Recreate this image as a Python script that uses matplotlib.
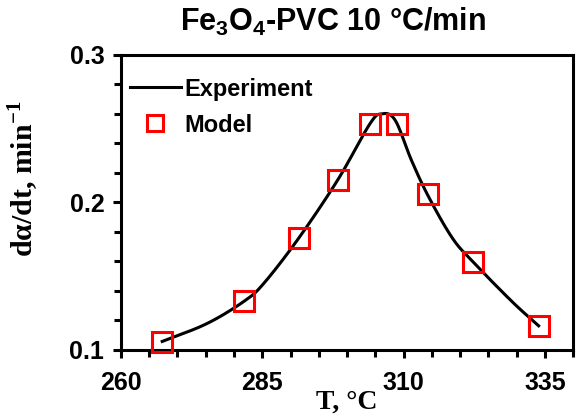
import numpy as np
import matplotlib
matplotlib.use('Agg')
import matplotlib.pyplot as plt
from matplotlib.ticker import MultipleLocator, FixedLocator

plt.rcParams['mathtext.fontset'] = 'custom'
plt.rcParams['mathtext.rm'] = 'Liberation Serif:bold'
plt.rcParams['mathtext.bf'] = 'Liberation Serif:bold'
plt.rcParams['mathtext.sf'] = 'Liberation Sans:bold'

# experimental rate curve, dalpha/dt vs T
exp_T = [267.3, 275.2, 281.8, 285.3, 291.5, 298.4, 304.0, 306.1, 308.5,
         311.4, 314.4, 318.6, 322.2, 329.2, 333.9]
exp_rate = [0.1057, 0.1178, 0.1330, 0.1452, 0.1760, 0.2155, 0.2530, 0.2600,
            0.2558, 0.2285, 0.2040, 0.1760, 0.1600, 0.1327, 0.1163]

# model points
mod_T = [267.3, 281.8, 291.5, 298.4, 304.0, 308.8, 314.4, 322.2, 333.9]
mod_rate = [0.1053, 0.1332, 0.1760, 0.2155, 0.2531, 0.2531, 0.2054, 0.1598, 0.1163]


def catmull_rom(x, y, n=20):
    # simple Catmull-Rom spline through the given points
    p = np.column_stack([x, y]).astype(float)
    p = np.vstack([2 * p[0] - p[1], p, 2 * p[-1] - p[-2]])
    out = []
    for i in range(1, len(p) - 2):
        p0, p1, p2, p3 = p[i - 1], p[i], p[i + 1], p[i + 2]
        t = np.linspace(0, 1, n, endpoint=False)[:, None]
        seg = 0.5 * ((2 * p1) + (-p0 + p2) * t + (2 * p0 - 5 * p1 + 4 * p2 - p3) * t ** 2
                     + (-p0 + 3 * p1 - 3 * p2 + p3) * t ** 3)
        out.append(seg)
    out.append(p[-2][None, :])
    out = np.vstack(out)
    return out[:, 0], out[:, 1]


fig = plt.figure(figsize=(5.76, 4.19), dpi=100)
ax = fig.add_axes([0.21, 0.165, 0.785, 0.704])

sx, sy = catmull_rom(exp_T, exp_rate)
ax.plot(sx, sy, color='black', lw=2.2, label='Experiment', zorder=2)
ax.plot(mod_T, mod_rate, 's', ms=14, mfc='none', mec='#ff0000', mew=2.2,
        label='Model', zorder=3, clip_on=False)

ax.set_xlim(260, 340)
ax.set_ylim(0.1, 0.3)
ax.xaxis.set_major_locator(FixedLocator([260, 285, 310, 335]))
ax.xaxis.set_minor_locator(MultipleLocator(5))
ax.yaxis.set_major_locator(MultipleLocator(0.1))
ax.yaxis.set_minor_locator(MultipleLocator(0.02))
ax.yaxis.set_major_formatter(plt.FuncFormatter(lambda v, p: '%.1f' % v))

for s in ax.spines.values():
    s.set_linewidth(2.2)
ax.tick_params(which='major', direction='out', length=6, width=2.2)
ax.tick_params(which='minor', direction='out', length=5, width=2.2)
ax.tick_params(axis='x', pad=9)
ax.tick_params(axis='y', pad=6)
for lab in ax.get_xticklabels() + ax.get_yticklabels():
    lab.set_fontfamily('Liberation Sans')
    lab.set_fontweight('bold')
    lab.set_fontsize(18)

ax.set_xlabel('T, °C', fontfamily='Liberation Serif', fontweight='bold',
              fontsize=20)
ax.xaxis.set_label_coords(0.5, -0.178)
ax.xaxis.label.set_va('center')
ax.set_ylabel('dα/dt, min$^{-1}$', fontfamily='Liberation Serif',
              fontweight='bold', fontsize=21.5)
ax.yaxis.set_label_coords(-0.217, 0.58)
ax.yaxis.label.set_va('center')

fig.text(333 / 576, 1 - 22 / 419, r'Fe$_\mathsf{3}$O$_\mathsf{4}$-PVC 10 °C/min',
         family='Liberation Sans', weight='bold', size=22, ha='center', va='center')

ax.legend(loc='upper left', frameon=False, handlelength=2.15, handletextpad=0.15,
          markerscale=0.85,
          prop={'family': 'Liberation Sans', 'weight': 'bold', 'size': 17},
          bbox_to_anchor=(-0.001, 0.955), borderaxespad=0.0, labelspacing=0.55)

fig.savefig('out.png', dpi=100)
